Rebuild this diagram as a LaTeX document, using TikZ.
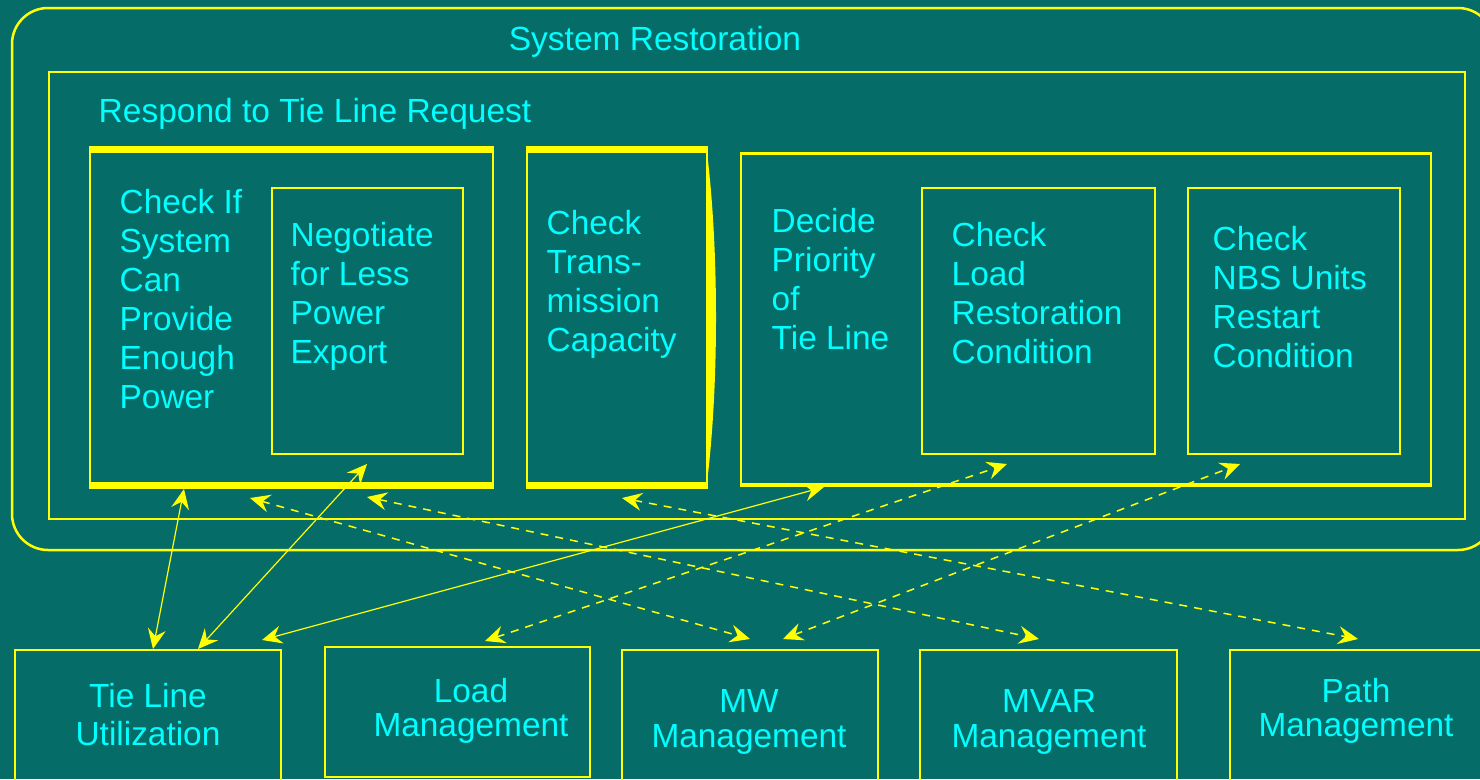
\documentclass[tikz,border=0pt]{standalone}
\usepackage{fontspec}
\setmainfont{Liberation Sans}
\usetikzlibrary{arrows.meta}
\definecolor{bg}{RGB}{6,108,104}
\definecolor{ln}{RGB}{255,255,0}
\definecolor{tx}{RGB}{0,255,255}
\newcommand{\bfsz}[1]{\fontsize{33.4}{#1}\selectfont\lineskiplimit -20pt\relax}
\begin{document}
\begin{tikzpicture}[x=1pt,y=-1pt,
  box/.style={draw=ln, rectangle, inner sep=0pt, outer sep=0pt, anchor=north west, line width=1.3pt},
  txt/.style={text=tx, font=\fontsize{33.4}{39}\selectfont, align=left, inner sep=0pt, anchor=north west},
  btxt/.style={text=tx, align=center, inner sep=0pt, anchor=north},
  ttl/.style={text=tx, font=\fontsize{33.5}{39}\selectfont, inner sep=0pt},
  conn/.style={draw=ln, line width=1.2pt, {Stealth[length=20pt,width=18pt,inset=7pt]}-{Stealth[length=20pt,width=18pt,inset=7pt]}},
  dconn/.style={conn, line width=1.5pt, dash pattern=on 8pt off 7pt},
  thick band/.style={draw=ln, line cap=butt}
]
\useasboundingbox (0,0) rectangle (1480,779);
\fill[bg] (0,0) rectangle (1480,779);
\clip (0,0) rectangle (1480,779);

% outer and container boxes
\node[box, rounded corners=36pt, line width=2.5pt, minimum width=1482pt, minimum height=542pt] (sys) at (12,8) {};
\node[box, line width=1.5pt, minimum width=1416pt, minimum height=447pt] (resp) at (49,72) {};
\node[ttl, anchor=base] (tsys) at (655,50) {System Restoration};
\node[ttl, anchor=base west] (tresp) at (98.5,122) {Respond to Tie Line Request};

% box A
\node[box, line width=2pt, minimum width=403pt, minimum height=336pt] (A) at (90,149.5) {};
\draw[thick band, line width=7pt] ([xshift=-1pt]A.north west) -- ([xshift=1pt]A.north east);
\draw[thick band, line width=7pt] ([xshift=-1pt]A.south west) -- ([xshift=1pt]A.south east);
\node[box, line width=1.2pt, minimum width=191pt, minimum height=266pt] (neg) at (272,188) {};
\node[txt] (tA) at (119.5,185.7) {\strut Check If\\System\\Can\\Provide\\Enough\\Power};
\node[txt] (tneg) at (290.5,218.7) {\strut Negotiate\\for Less\\Power\\Export};

% box B
\node[box, line width=2pt, minimum width=180pt, minimum height=336pt] (B) at (527,149.5) {};
\draw[thick band, line width=7pt] ([xshift=-1pt]B.north west) -- ([xshift=1pt]B.north east);
\draw[thick band, line width=7pt] ([xshift=-1pt]B.south west) -- ([xshift=1pt]B.south east);
\fill[ln] ([yshift=-3pt]B.north east) .. controls (719,250) and (719,385) .. ([yshift=3pt]B.south east) -- cycle;
\node[txt] (tB) at (546.5,206.7) {\strut Check\\Trans-\\mission\\Capacity};

% box C
\node[box, line width=2pt, minimum width=690pt, minimum height=331.5pt] (C) at (741,153.5) {};
\draw[thick band, line width=3pt] ([xshift=-1pt]C.north west) -- ([xshift=1pt]C.north east);
\draw[thick band, line width=4.5pt] ([xshift=-1pt]C.south west) -- ([xshift=1pt]C.south east);
\node[txt] (tC) at (771.5,204.7) {\strut Decide\\Priority\\of\\Tie Line};
\node[box, line width=1.2pt, minimum width=233pt, minimum height=266pt] (lrc) at (922,188) {};
\node[txt] (tlrc) at (951.5,218.7) {\strut Check\\Load\\Restoration\\Condition};
\node[box, line width=1.2pt, minimum width=212pt, minimum height=266pt] (nbs) at (1188,188) {};
\node[txt] (tnbs) at (1212.5,222.7) {\strut Check\\NBS Units\\Restart\\Condition};

% bottom boxes
\node[box, minimum width=266pt, minimum height=150pt] (tlu) at (15,650) {};
\node[box, minimum width=265pt, minimum height=130pt] (lm) at (325,647) {};
\node[box, minimum width=256pt, minimum height=150pt] (mw) at (622,650) {};
\node[box, minimum width=257pt, minimum height=150pt] (mvar) at (920,650) {};
\node[box, minimum width=280pt, minimum height=150pt] (pm) at (1230,650) {};
\node[btxt, font={\bfsz{38}}] (ttlu) at (148,680.4) {\strut Tie Line\\Utilization};
\node[btxt, font={\bfsz{34}}] (tlm) at (471,678.2) {\strut Load\\Management};
\node[btxt, font={\bfsz{35}}] (tmw) at (749,687.5) {\strut MW\\Management};
\node[btxt, font={\bfsz{35}}] (tmvar) at (1049,687.5) {\strut MVAR\\Management};
\node[btxt, font={\bfsz{34}}] (tpm) at (1356,678.2) {\strut Path\\Management};

% connector end points
\coordinate (p1a) at (153,649);  \coordinate (p1b) at (184,489);
\coordinate (p2a) at (198,649);  \coordinate (p2b) at (367,464);
\coordinate (p3a) at (262,640);  \coordinate (p3b) at (824,487);
\coordinate (p4a) at (250,498);  \coordinate (p4b) at (750,639);
\coordinate (p5a) at (485,641);  \coordinate (p5b) at (1007,464);
\coordinate (p6a) at (367,497);  \coordinate (p6b) at (1039,639);
\coordinate (p7a) at (622,498);  \coordinate (p7b) at (1358,639);
\coordinate (p8a) at (783,639);  \coordinate (p8b) at (1240,464);

% connectors
\draw[conn] (p1a) -- (p1b);
\draw[conn] (p2a) -- (p2b);
\draw[conn] (p3a) -- (p3b);
\draw[dconn] (p4a) -- (p4b);
\draw[dconn] (p5a) -- (p5b);
\draw[dconn] (p6a) -- (p6b);
\draw[dconn] (p7a) -- (p7b);
\draw[dconn] (p8a) -- (p8b);
\end{tikzpicture}
\end{document}
